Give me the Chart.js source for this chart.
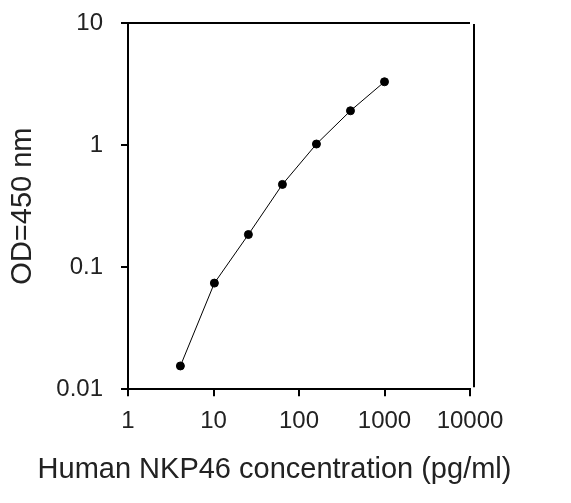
<!DOCTYPE html>
<html>
<head>
<meta charset="utf-8">
<script src="https://cdn.jsdelivr.net/npm/chart.js@4/dist/chart.umd.min.js"></script>
<style>
    html, body { margin: 0; padding: 0; background: #fff; }
    #wrap { width: 571px; height: 503px; }
</style>
</head>
<body>
<div id="wrap"><canvas id="stdChart"></canvas></div>
<script>
// standard curve values
var concentrations = [4.1, 10.24, 25.6, 64, 160, 400, 1000];
var odValues = [0.0155, 0.074, 0.185, 0.476, 1.02, 1.91, 3.3];

var xTickValues = [1, 10, 100, 1000, 10000];
var xTickLabels = ["1", "10", "100", "1000", "10000"];
var yTickValues = [0.01, 0.1, 1, 10];
var yTickLabels = ["0.01", "0.1", "1", "10"];

var xTitle = "Human NKP46 concentration (pg/ml)";
var yTitle = "OD=450 nm";

var points = [];
for (var i = 0; i < concentrations.length; i++) {
    points.push({ x: concentrations[i], y: odValues[i] });
}

// top line and the right line (sits a little off the plot edge in the original)
var framePlugin = {
    id: 'frame',
    afterDraw: function (chart) {
        var a = chart.chartArea;
        var ctx = chart.ctx;
        ctx.save();
        ctx.strokeStyle = '#000';
        ctx.lineWidth = 2;
        ctx.beginPath();
        ctx.moveTo(a.left, a.top);
        ctx.lineTo(a.right, a.top);
        ctx.moveTo(a.right + 4, a.top + 1);
        ctx.lineTo(a.right + 4, a.bottom - 2);
        ctx.stroke();
        ctx.restore();
    }
};

var tickFont = { family: "'Liberation Sans', Arial, sans-serif", size: 24 };
var titleFont = { family: "'Liberation Sans', Arial, sans-serif", size: 29, weight: 'normal' };

new Chart(document.getElementById('stdChart'), {
    type: 'line',
    data: {
        datasets: [{
            data: points,
            borderColor: '#000',
            borderWidth: 1,
            backgroundColor: '#000',
            pointRadius: 4,
            pointHoverRadius: 4,
            pointBackgroundColor: '#000',
            pointBorderColor: '#000',
            tension: 0,
            fill: false
        }]
    },
    options: {
        responsive: true,
        maintainAspectRatio: false,
        devicePixelRatio: 1,
        animation: false,
        layout: { padding: { top: 23, right: 22, bottom: 0, left: 0 } },
        plugins: {
            legend: { display: false },
            tooltip: { enabled: false },
            title: {
                display: true,
                position: 'bottom',
                text: xTitle,
                color: '#222',
                font: titleFont,
                padding: { top: 0, bottom: 16 }
            }
        },
        scales: {
            x: {
                type: 'logarithmic',
                position: 'bottom',
                min: 1,
                max: 10000,
                afterBuildTicks: function (scale) {
                    scale.ticks = xTickValues.map(function (v) { return { value: v }; });
                },
                afterFit: function (scale) { scale.height = 63; },
                ticks: {
                    color: '#222',
                    font: tickFont,
                    padding: 11,
                    autoSkip: false,
                    maxRotation: 0,
                    callback: function (value, index) { return xTickLabels[index]; }
                },
                grid: { drawOnChartArea: false, drawTicks: true, tickLength: 7, color: '#000', lineWidth: 2 },
                border: { display: true, color: '#000', width: 2 }
            },
            y: {
                type: 'logarithmic',
                position: 'left',
                min: 0.01,
                max: 10,
                afterBuildTicks: function (scale) {
                    scale.ticks = yTickValues.map(function (v) { return { value: v }; });
                },
                afterFit: function (scale) {
                    scale.width = 128;
                    // let the layout padding decide where the plot top sits
                    scale.paddingTop = 0;
                    scale.paddingBottom = 0;
                },
                title: {
                    display: true,
                    text: yTitle,
                    color: '#222',
                    font: titleFont,
                    padding: { top: 6, bottom: 0 }
                },
                ticks: {
                    color: '#222',
                    font: tickFont,
                    padding: 18,
                    autoSkip: false,
                    callback: function (value, index) { return yTickLabels[index]; }
                },
                grid: { drawOnChartArea: false, drawTicks: true, tickLength: 7, color: '#000', lineWidth: 2 },
                border: { display: true, color: '#000', width: 2 }
            },
            spacer: {
                type: 'linear',
                position: 'right',
                display: true,
                ticks: { display: false },
                grid: { display: false },
                border: { display: false },
                afterFit: function (scale) { scale.width = 79; }
            }
        }
    },
    plugins: [framePlugin]
});
</script>
</body>
</html>
